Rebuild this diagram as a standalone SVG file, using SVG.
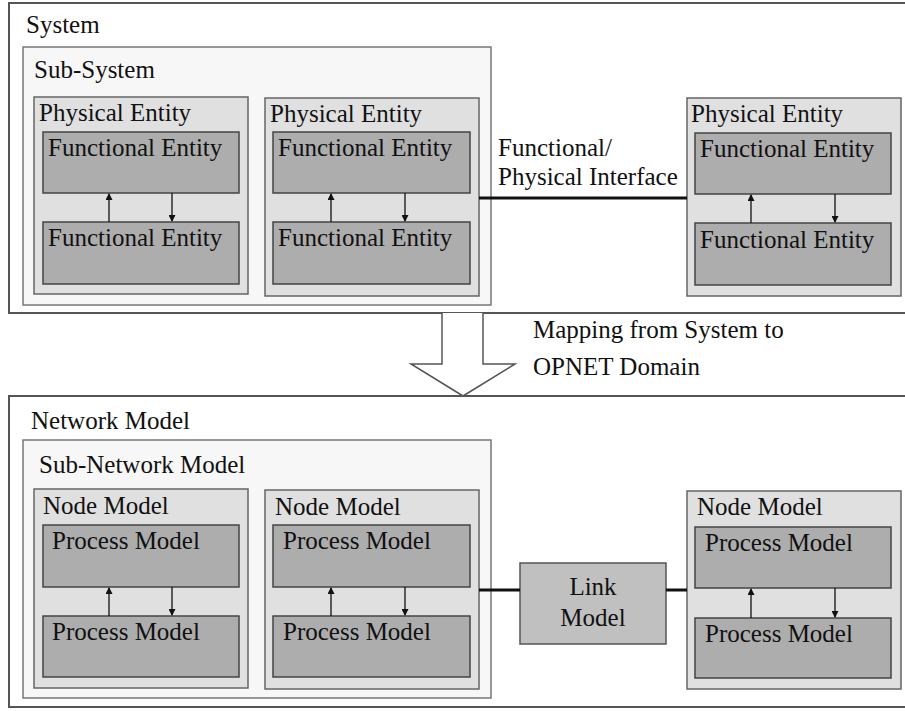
<svg xmlns="http://www.w3.org/2000/svg" width="905" height="711" viewBox="0 0 905 711">
<defs>
<marker id="ah" markerWidth="7" markerHeight="7" refX="6" refY="3.5" orient="auto" markerUnits="userSpaceOnUse">
<path d="M0,0 L7,3.5 L0,7 Z" fill="#111"/>
</marker>
</defs>
<rect width="905" height="711" fill="#fff"/>
<g id="system">
<rect x="9" y="3" width="905" height="310" fill="#fff" stroke="#555" stroke-width="2"/>
<text font-family="Liberation Serif" font-size="25" fill="#111" x="26" y="33">System</text>
</g>
<g id="subsystem">
<rect x="23" y="47" width="468" height="258" fill="#f7f7f7" stroke="#777" stroke-width="1.5"/>
<text font-family="Liberation Serif" font-size="25" fill="#111" x="34" y="78">Sub-System</text>
</g>
<g id="pe1">
<rect x="34" y="97" width="214" height="197" fill="#e0e0e0" stroke="#666" stroke-width="1.5"/>
<text font-family="Liberation Serif" font-size="25" fill="#111" x="39" y="121">Physical Entity</text>
</g>
<g id="fe1a"><rect x="43" y="132" width="196" height="61" fill="#adadad" stroke="#444" stroke-width="1.5"/><text font-family="Liberation Serif" font-size="25" fill="#111" x="48" y="156">Functional Entity</text></g>
<g id="fe1b"><rect x="43" y="222" width="196" height="62" fill="#adadad" stroke="#444" stroke-width="1.5"/><text font-family="Liberation Serif" font-size="25" fill="#111" x="48" y="246">Functional Entity</text></g>
<g id="pe2">
<rect x="265" y="98" width="214" height="198" fill="#e0e0e0" stroke="#666" stroke-width="1.5"/>
<text font-family="Liberation Serif" font-size="25" fill="#111" x="270" y="122">Physical Entity</text>
</g>
<g id="fe2a"><rect x="273" y="132" width="197" height="61" fill="#adadad" stroke="#444" stroke-width="1.5"/><text font-family="Liberation Serif" font-size="25" fill="#111" x="278" y="156">Functional Entity</text></g>
<g id="fe2b"><rect x="273" y="222" width="197" height="62" fill="#adadad" stroke="#444" stroke-width="1.5"/><text font-family="Liberation Serif" font-size="25" fill="#111" x="278" y="246">Functional Entity</text></g>
<g id="pe3">
<rect x="687" y="98" width="214" height="198" fill="#e0e0e0" stroke="#666" stroke-width="1.5"/>
<text font-family="Liberation Serif" font-size="25" fill="#111" x="691" y="122">Physical Entity</text>
</g>
<g id="fe3a"><rect x="695" y="133" width="196" height="61" fill="#adadad" stroke="#444" stroke-width="1.5"/><text font-family="Liberation Serif" font-size="25" fill="#111" x="700" y="157">Functional Entity</text></g>
<g id="fe3b"><rect x="695" y="223" width="196" height="62" fill="#adadad" stroke="#444" stroke-width="1.5"/><text font-family="Liberation Serif" font-size="25" fill="#111" x="700" y="248">Functional Entity</text></g>
<g id="iface-label">
<text font-family="Liberation Serif" font-size="25" fill="#111" x="498" y="156">Functional/</text>
<text font-family="Liberation Serif" font-size="25" fill="#111" x="498" y="185">Physical Interface</text>
</g>
<g id="mapping">
<path d="M442,313 L442,364 L411,364 L463,396 L515,364 L483,364 L483,313" fill="#fff" stroke="#555" stroke-width="1.5"/>
<text font-family="Liberation Serif" font-size="25" fill="#111" x="533" y="338">Mapping from System to</text>
<text font-family="Liberation Serif" font-size="25" fill="#111" x="533" y="375">OPNET Domain</text>
</g>
<g id="network">
<rect x="9" y="396" width="905" height="311" fill="#fff" stroke="#555" stroke-width="2"/>
<text font-family="Liberation Serif" font-size="25" fill="#111" x="31" y="429">Network Model</text>
</g>
<g id="subnetwork">
<rect x="23" y="440" width="468" height="258" fill="#f7f7f7" stroke="#777" stroke-width="1.5"/>
<text font-family="Liberation Serif" font-size="25" fill="#111" x="39" y="473">Sub-Network Model</text>
</g>
<g id="nm1">
<rect x="34" y="489" width="214" height="199" fill="#e0e0e0" stroke="#666" stroke-width="1.5"/>
<text font-family="Liberation Serif" font-size="25" fill="#111" x="43" y="514">Node Model</text>
</g>
<g id="pm1a"><rect x="43" y="525" width="196" height="62" fill="#adadad" stroke="#444" stroke-width="1.5"/><text font-family="Liberation Serif" font-size="25" fill="#111" x="52" y="549">Process Model</text></g>
<g id="pm1b"><rect x="43" y="616" width="196" height="61" fill="#adadad" stroke="#444" stroke-width="1.5"/><text font-family="Liberation Serif" font-size="25" fill="#111" x="52" y="640">Process Model</text></g>
<g id="nm2">
<rect x="265" y="490" width="214" height="199" fill="#e0e0e0" stroke="#666" stroke-width="1.5"/>
<text font-family="Liberation Serif" font-size="25" fill="#111" x="275" y="515">Node Model</text>
</g>
<g id="pm2a"><rect x="273" y="525" width="197" height="62" fill="#adadad" stroke="#444" stroke-width="1.5"/><text font-family="Liberation Serif" font-size="25" fill="#111" x="283" y="549">Process Model</text></g>
<g id="pm2b"><rect x="273" y="616" width="197" height="61" fill="#adadad" stroke="#444" stroke-width="1.5"/><text font-family="Liberation Serif" font-size="25" fill="#111" x="283" y="640">Process Model</text></g>
<g id="nm3">
<rect x="687" y="491" width="214" height="198" fill="#e0e0e0" stroke="#666" stroke-width="1.5"/>
<text font-family="Liberation Serif" font-size="25" fill="#111" x="697" y="515">Node Model</text>
</g>
<g id="pm3a"><rect x="695" y="527" width="196" height="61" fill="#adadad" stroke="#444" stroke-width="1.5"/><text font-family="Liberation Serif" font-size="25" fill="#111" x="705" y="551">Process Model</text></g>
<g id="pm3b"><rect x="695" y="618" width="196" height="60" fill="#adadad" stroke="#444" stroke-width="1.5"/><text font-family="Liberation Serif" font-size="25" fill="#111" x="705" y="642">Process Model</text></g>
<g id="linkmodel">
<rect x="520" y="563" width="146" height="81" fill="#c0c0c0" stroke="#555" stroke-width="1.5"/>
<text font-family="Liberation Serif" font-size="25" fill="#111" x="593" y="595" text-anchor="middle">Link</text>
<text font-family="Liberation Serif" font-size="25" fill="#111" x="593" y="626" text-anchor="middle">Model</text>
</g>
<g id="connectors" fill="none" stroke="#111">
<g stroke-width="3">
<line x1="479" y1="198" x2="687" y2="198"/>
<line x1="479" y1="590" x2="520" y2="590"/>
<line x1="666" y1="590" x2="687" y2="590"/>
</g>
<g stroke-width="1.3" marker-end="url(#ah)">
<line x1="109" y1="222" x2="109" y2="194"/>
<line x1="172" y1="193" x2="172" y2="221"/>
<line x1="331" y1="222" x2="331" y2="194"/>
<line x1="405" y1="193" x2="405" y2="221"/>
<line x1="751" y1="223" x2="751" y2="195"/>
<line x1="835" y1="194" x2="835" y2="222"/>
<line x1="109" y1="616" x2="109" y2="588"/>
<line x1="172" y1="587" x2="172" y2="615"/>
<line x1="331" y1="616" x2="331" y2="588"/>
<line x1="405" y1="587" x2="405" y2="615"/>
<line x1="751" y1="618" x2="751" y2="589"/>
<line x1="835" y1="588" x2="835" y2="617"/>
</g>
</g>
</svg>
